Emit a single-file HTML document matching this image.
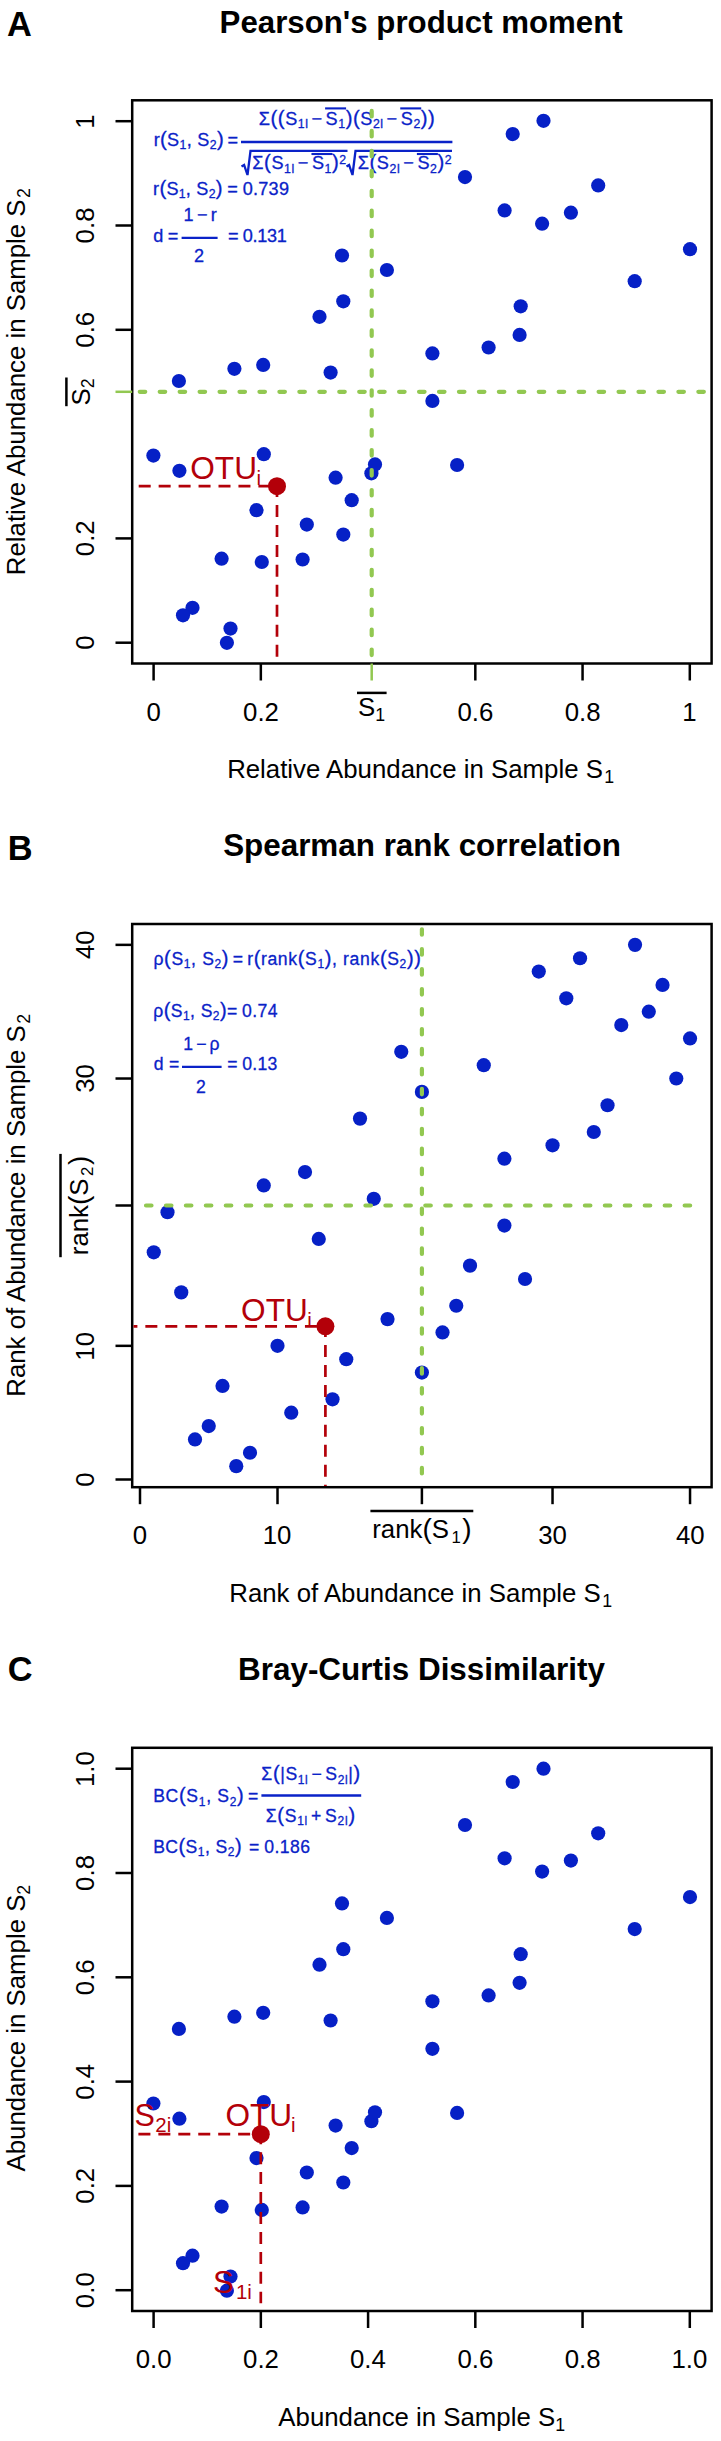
<!DOCTYPE html>
<html><head><meta charset="utf-8"><style>
html,body{margin:0;padding:0;background:#fff;}
svg{display:block;font-family:"Liberation Sans",sans-serif;}
</style></head><body>
<svg width="721" height="2441" viewBox="0 0 721 2441">
<rect width="721" height="2441" fill="#fff"/>
<text x="7.04" y="35.80" font-size="34.4" font-weight="bold" fill="#000">A</text>
<text x="219.59" y="32.50" font-size="31.24" font-weight="bold" fill="#000">Pearson's product moment</text>
<rect x="132.2" y="100.3" width="579.4000000000001" height="563.2" fill="none" stroke="#000" stroke-width="2.5"/>
<line x1="153.60" y1="663.5" x2="153.60" y2="680.5" stroke="#000" stroke-width="2.5"/>
<text x="146.43" y="720.50" font-size="25.8" font-weight="normal" fill="#000">0</text>
<line x1="115.49999999999999" y1="642.70" x2="132.2" y2="642.70" stroke="#000" stroke-width="2.5"/>
<text x="0" y="0" font-size="25.8" fill="#000" transform="translate(93.80,649.87) rotate(-90)">0</text>
<line x1="260.84" y1="663.5" x2="260.84" y2="680.5" stroke="#000" stroke-width="2.5"/>
<text x="243.05" y="720.50" font-size="25.8" font-weight="normal" fill="#000">0.2</text>
<line x1="115.49999999999999" y1="538.40" x2="132.2" y2="538.40" stroke="#000" stroke-width="2.5"/>
<text x="0" y="0" font-size="25.8" fill="#000" transform="translate(93.80,556.19) rotate(-90)">0.2</text>
<line x1="475.32" y1="663.5" x2="475.32" y2="680.5" stroke="#000" stroke-width="2.5"/>
<text x="457.45" y="720.50" font-size="25.8" font-weight="normal" fill="#000">0.6</text>
<line x1="115.49999999999999" y1="329.80" x2="132.2" y2="329.80" stroke="#000" stroke-width="2.5"/>
<text x="0" y="0" font-size="25.8" fill="#000" transform="translate(93.80,347.67) rotate(-90)">0.6</text>
<line x1="582.56" y1="663.5" x2="582.56" y2="680.5" stroke="#000" stroke-width="2.5"/>
<text x="564.68" y="720.50" font-size="25.8" font-weight="normal" fill="#000">0.8</text>
<line x1="115.49999999999999" y1="225.50" x2="132.2" y2="225.50" stroke="#000" stroke-width="2.5"/>
<text x="0" y="0" font-size="25.8" fill="#000" transform="translate(93.80,243.38) rotate(-90)">0.8</text>
<line x1="689.80" y1="663.5" x2="689.80" y2="680.5" stroke="#000" stroke-width="2.5"/>
<text x="682.27" y="720.50" font-size="25.8" font-weight="normal" fill="#000">1</text>
<line x1="115.49999999999999" y1="121.20" x2="132.2" y2="121.20" stroke="#000" stroke-width="2.5"/>
<text x="0" y="0" font-size="25.8" fill="#000" transform="translate(93.80,128.73) rotate(-90)">1</text>
<text x="227.13" y="778.20" font-size="25.8" fill="#000">Relative Abundance in Sample S</text>
<text x="604.33" y="783.00" font-size="17.8" fill="#000">1</text>
<g transform="translate(25.00,575.16) rotate(-90)" fill="#000"><text x="0" y="0" font-size="25.8">Relative Abundance in Sample S</text><text x="377.20" y="4.8" font-size="17.8">2</text></g>
<circle cx="153.40" cy="455.60" r="7.1" fill="#0620c6"/>
<circle cx="179.40" cy="470.80" r="7.1" fill="#0620c6"/>
<circle cx="178.90" cy="381.00" r="7.1" fill="#0620c6"/>
<circle cx="234.40" cy="368.80" r="7.1" fill="#0620c6"/>
<circle cx="263.20" cy="364.90" r="7.1" fill="#0620c6"/>
<circle cx="263.80" cy="454.20" r="7.1" fill="#0620c6"/>
<circle cx="256.50" cy="510.20" r="7.1" fill="#0620c6"/>
<circle cx="306.80" cy="524.60" r="7.1" fill="#0620c6"/>
<circle cx="221.60" cy="558.70" r="7.1" fill="#0620c6"/>
<circle cx="261.80" cy="562.00" r="7.1" fill="#0620c6"/>
<circle cx="302.60" cy="559.50" r="7.1" fill="#0620c6"/>
<circle cx="192.50" cy="607.80" r="7.1" fill="#0620c6"/>
<circle cx="183.00" cy="615.30" r="7.1" fill="#0620c6"/>
<circle cx="230.50" cy="628.60" r="7.1" fill="#0620c6"/>
<circle cx="226.90" cy="642.80" r="7.1" fill="#0620c6"/>
<circle cx="319.50" cy="316.80" r="7.1" fill="#0620c6"/>
<circle cx="343.30" cy="301.30" r="7.1" fill="#0620c6"/>
<circle cx="342.00" cy="255.50" r="7.1" fill="#0620c6"/>
<circle cx="330.60" cy="372.60" r="7.1" fill="#0620c6"/>
<circle cx="335.60" cy="477.70" r="7.1" fill="#0620c6"/>
<circle cx="351.70" cy="500.20" r="7.1" fill="#0620c6"/>
<circle cx="343.30" cy="534.60" r="7.1" fill="#0620c6"/>
<circle cx="371.40" cy="473.30" r="7.1" fill="#0620c6"/>
<circle cx="375.00" cy="464.40" r="7.1" fill="#0620c6"/>
<circle cx="386.90" cy="270.00" r="7.1" fill="#0620c6"/>
<circle cx="432.40" cy="400.90" r="7.1" fill="#0620c6"/>
<circle cx="432.40" cy="353.40" r="7.1" fill="#0620c6"/>
<circle cx="457.10" cy="465.00" r="7.1" fill="#0620c6"/>
<circle cx="465.00" cy="177.10" r="7.1" fill="#0620c6"/>
<circle cx="488.60" cy="347.50" r="7.1" fill="#0620c6"/>
<circle cx="504.60" cy="210.40" r="7.1" fill="#0620c6"/>
<circle cx="520.70" cy="306.30" r="7.1" fill="#0620c6"/>
<circle cx="519.60" cy="334.90" r="7.1" fill="#0620c6"/>
<circle cx="512.70" cy="134.10" r="7.1" fill="#0620c6"/>
<circle cx="542.10" cy="223.70" r="7.1" fill="#0620c6"/>
<circle cx="543.50" cy="120.80" r="7.1" fill="#0620c6"/>
<circle cx="570.90" cy="212.70" r="7.1" fill="#0620c6"/>
<circle cx="598.20" cy="185.40" r="7.1" fill="#0620c6"/>
<circle cx="634.70" cy="281.20" r="7.1" fill="#0620c6"/>
<circle cx="690.00" cy="249.20" r="7.1" fill="#0620c6"/>
<g fill="#0a22c8" stroke="#0a22c8" stroke-width="0.3"><text x="153.70" y="146.00" font-size="18.10">r</text><text x="160.04" y="146.00" font-size="20.30">(</text><text x="167.12" y="146.00" font-size="18.10">S</text><text x="179.52" y="149.40" font-size="12.30">1</text><text x="186.68" y="146.00" font-size="18.10" letter-spacing="0.319">, S</text><text x="209.76" y="149.40" font-size="12.30">2</text><text x="216.92" y="146.00" font-size="20.30">)</text><text x="227.62" y="146.00" font-size="18.10">=</text></g>
<line x1="241.00" y1="142.00" x2="452.40" y2="142.00" stroke="#0a22c8" stroke-width="2.3"/>
<g fill="#0a22c8" stroke="#0a22c8" stroke-width="0.3"><text x="258.75" y="124.80" font-size="18.10">Σ</text><text x="270.50" y="124.80" font-size="20.30" letter-spacing="0.561">((</text><text x="285.14" y="124.80" font-size="18.10">S</text><text x="297.77" y="128.20" font-size="12.30" letter-spacing="0.561">1l</text><text x="311.47" y="124.80" font-size="18.10">−</text><text x="325.60" y="124.80" font-size="18.10">S</text><text x="338.23" y="128.20" font-size="12.30">1</text><text x="345.64" y="124.80" font-size="20.30" letter-spacing="0.561">)(</text><text x="360.28" y="124.80" font-size="18.10">S</text><text x="372.91" y="128.20" font-size="12.30" letter-spacing="0.561">2l</text><text x="386.61" y="124.80" font-size="18.10">−</text><text x="400.74" y="124.80" font-size="18.10">S</text><text x="413.38" y="128.20" font-size="12.30">2</text><text x="420.78" y="124.80" font-size="20.30" letter-spacing="0.561">))</text><line x1="325.10" y1="108.40" x2="346.08" y2="108.40" stroke="#0a22c8" stroke-width="2.1"/><line x1="400.24" y1="108.40" x2="421.22" y2="108.40" stroke="#0a22c8" stroke-width="2.1"/></g>
<g fill="#0a22c8" stroke="#0a22c8" stroke-width="0.3"><text x="252.35" y="169.30" font-size="18.10">Σ</text><text x="264.11" y="169.30" font-size="20.30">(</text><text x="271.44" y="169.30" font-size="18.10">S</text><text x="284.09" y="172.70" font-size="12.30" letter-spacing="0.574">1l</text><text x="297.81" y="169.30" font-size="18.10">−</text><text x="311.96" y="169.30" font-size="18.10">S</text><text x="324.60" y="172.70" font-size="12.30">1</text><text x="332.02" y="169.30" font-size="20.30">)</text><text x="339.35" y="163.80" font-size="12.30">2</text><text x="357.77" y="169.30" font-size="18.10">Σ</text><text x="369.53" y="169.30" font-size="20.30">(</text><text x="376.87" y="169.30" font-size="18.10">S</text><text x="389.51" y="172.70" font-size="12.30" letter-spacing="0.574">2l</text><text x="403.24" y="169.30" font-size="18.10">−</text><text x="417.38" y="169.30" font-size="18.10">S</text><text x="430.03" y="172.70" font-size="12.30">2</text><text x="437.44" y="169.30" font-size="20.30">)</text><text x="444.78" y="163.80" font-size="12.30">2</text><line x1="311.46" y1="154.00" x2="332.45" y2="154.00" stroke="#0a22c8" stroke-width="2.1"/><line x1="416.88" y1="154.00" x2="437.87" y2="154.00" stroke="#0a22c8" stroke-width="2.1"/></g>
<path d="M241.50,166.50 L244.10,165.00 L247.50,175.00 L250.50,150.80 L347.50,150.80" fill="none" stroke="#0a22c8" stroke-width="2.3" stroke-linejoin="miter"/>
<path d="M346.50,166.50 L349.10,165.00 L352.50,175.00 L355.50,150.80 L452.00,150.80" fill="none" stroke="#0a22c8" stroke-width="2.3" stroke-linejoin="miter"/>
<g fill="#0a22c8" stroke="#0a22c8" stroke-width="0.3"><text x="153.10" y="194.60" font-size="18.10">r</text><text x="159.38" y="194.60" font-size="20.30">(</text><text x="166.39" y="194.60" font-size="18.10">S</text><text x="178.71" y="198.00" font-size="12.30">1</text><text x="185.80" y="194.60" font-size="18.10" letter-spacing="0.251">, S</text><text x="208.69" y="198.00" font-size="12.30">2</text><text x="215.78" y="194.60" font-size="20.30">)</text><text x="227.31" y="194.60" font-size="18.10">=</text><text x="242.66" y="194.60" font-size="18.10" letter-spacing="0.251">0.739</text></g>
<g fill="#0a22c8" stroke="#0a22c8" stroke-width="0.3"><text x="153.14" y="242.10" font-size="18.10">d</text><text x="167.82" y="242.10" font-size="18.10">=</text></g>
<line x1="181.60" y1="237.90" x2="217.60" y2="237.90" stroke="#0a22c8" stroke-width="2.4"/>
<g fill="#0a22c8" stroke="#0a22c8" stroke-width="0.3"><text x="183.62" y="220.60" font-size="18.10">1</text><text x="196.95" y="220.60" font-size="18.10">−</text><text x="210.77" y="220.60" font-size="18.10">r</text></g>
<g fill="#0a22c8" stroke="#0a22c8" stroke-width="0.3"><text x="194.09" y="262.10" font-size="18.10">2</text></g>
<g fill="#0a22c8" stroke="#0a22c8" stroke-width="0.3"><text x="228.02" y="242.10" font-size="18.10">=</text><text x="242.79" y="242.10" font-size="18.10" letter-spacing="-0.324">0.131</text></g>
<line x1="139.75" y1="391.80" x2="706.00" y2="391.80" stroke="#92c851" stroke-width="4.2" stroke-dasharray="5.5 14.45" stroke-linecap="round"/>
<line x1="371.70" y1="110.95" x2="371.70" y2="660.00" stroke="#92c851" stroke-width="4.2" stroke-dasharray="5.5 14.45" stroke-linecap="round"/>
<line x1="371.70" y1="663.5" x2="371.70" y2="680.5" stroke="#92c851" stroke-width="2.5"/>
<line x1="115.49999999999999" y1="391.80" x2="132.2" y2="391.80" stroke="#92c851" stroke-width="2.5"/>
<text x="358.09" y="715.60" font-size="25.8" fill="#000">S</text>
<text x="375.30" y="720.80" font-size="17.8" fill="#000">1</text>
<line x1="357.00" y1="692.90" x2="386.60" y2="692.90" stroke="#000" stroke-width="2.5"/>
<g transform="translate(89.80,405.49) rotate(-90)" fill="#000"><text x="0" y="0" font-size="25.8">S</text><text x="17.21" y="4.0" font-size="17.8">2</text></g>
<line x1="66.4" y1="377.5" x2="66.4" y2="406.2" stroke="#000" stroke-width="2.5"/>
<line x1="138.70" y1="486.20" x2="277.00" y2="486.20" stroke="#b30009" stroke-width="2.8" stroke-dasharray="12.0 7.95" stroke-linecap="butt"/>
<line x1="277.00" y1="485.05" x2="277.00" y2="657.20" stroke="#b30009" stroke-width="2.7" stroke-dasharray="12.0 7.95" stroke-linecap="butt"/>
<text x="190.30" y="479.00" font-size="31.6" font-weight="normal" fill="#b30009">OTU</text>
<text x="256.43" y="485.00" font-size="20.5" font-weight="normal" fill="#b30009">i</text>
<circle cx="277.00" cy="486.20" r="9.0" fill="#b30009"/>
<text x="7.70" y="859.80" font-size="34.4" font-weight="bold" fill="#000">B</text>
<text x="223.13" y="855.80" font-size="31.4" font-weight="bold" fill="#000">Spearman rank correlation</text>
<rect x="132.2" y="924.0" width="579.4000000000001" height="563.2" fill="none" stroke="#000" stroke-width="2.5"/>
<line x1="140.00" y1="1487.2" x2="140.00" y2="1504.2" stroke="#000" stroke-width="2.5"/>
<text x="132.83" y="1544.20" font-size="25.8" font-weight="normal" fill="#000">0</text>
<line x1="115.49999999999999" y1="1479.50" x2="132.2" y2="1479.50" stroke="#000" stroke-width="2.5"/>
<text x="0" y="0" font-size="25.8" fill="#000" transform="translate(93.80,1486.67) rotate(-90)">0</text>
<line x1="277.51" y1="1487.2" x2="277.51" y2="1504.2" stroke="#000" stroke-width="2.5"/>
<text x="262.68" y="1544.20" font-size="25.8" font-weight="normal" fill="#000">10</text>
<line x1="115.49999999999999" y1="1345.84" x2="132.2" y2="1345.84" stroke="#000" stroke-width="2.5"/>
<text x="0" y="0" font-size="25.8" fill="#000" transform="translate(93.80,1360.67) rotate(-90)">10</text>
<line x1="552.53" y1="1487.2" x2="552.53" y2="1504.2" stroke="#000" stroke-width="2.5"/>
<text x="538.19" y="1544.20" font-size="25.8" font-weight="normal" fill="#000">30</text>
<line x1="115.49999999999999" y1="1078.52" x2="132.2" y2="1078.52" stroke="#000" stroke-width="2.5"/>
<text x="0" y="0" font-size="25.8" fill="#000" transform="translate(93.80,1092.86) rotate(-90)">30</text>
<line x1="690.04" y1="1487.2" x2="690.04" y2="1504.2" stroke="#000" stroke-width="2.5"/>
<text x="675.90" y="1544.20" font-size="25.8" font-weight="normal" fill="#000">40</text>
<line x1="115.49999999999999" y1="944.86" x2="132.2" y2="944.86" stroke="#000" stroke-width="2.5"/>
<text x="0" y="0" font-size="25.8" fill="#000" transform="translate(93.80,959.00) rotate(-90)">40</text>
<text x="229.28" y="1601.90" font-size="25.8" fill="#000">Rank of Abundance in Sample S</text>
<text x="602.18" y="1606.70" font-size="17.8" fill="#000">1</text>
<g transform="translate(25.00,1396.71) rotate(-90)" fill="#000"><text x="0" y="0" font-size="25.8">Rank of Abundance in Sample S</text><text x="372.90" y="4.8" font-size="17.8">2</text></g>
<line x1="421.90" y1="1487.2" x2="421.90" y2="1504.2" stroke="#000" stroke-width="2.5"/>
<line x1="115.49999999999999" y1="1205.50" x2="132.2" y2="1205.50" stroke="#000" stroke-width="2.5"/>
<text x="372.22" y="1537.90" font-size="25.8">rank</text>
<text x="422.41" y="1537.90" font-size="28.0">(</text>
<text x="431.73" y="1537.90" font-size="25.8">S</text>
<text x="451.44" y="1542.70" font-size="16.8">1</text>
<text x="462.28" y="1537.90" font-size="28.0">)</text>
<line x1="370.40" y1="1511.00" x2="473.30" y2="1511.00" stroke="#000" stroke-width="2.5"/>
<g transform="translate(87.90,1255.18) rotate(-90)"><text x="0.00" y="0" font-size="25.8">rank</text><text x="50.19" y="0" font-size="28.0">(</text><text x="59.51" y="0" font-size="25.8">S</text><text x="79.22" y="4.8" font-size="16.8">2</text><text x="90.07" y="0" font-size="28.0">)</text></g>
<line x1="60.5" y1="1153.9" x2="60.5" y2="1257.2" stroke="#000" stroke-width="2.5"/>
<circle cx="167.50" cy="1212.18" r="7.1" fill="#0620c6"/>
<circle cx="153.75" cy="1252.28" r="7.1" fill="#0620c6"/>
<circle cx="181.25" cy="1292.38" r="7.1" fill="#0620c6"/>
<circle cx="263.76" cy="1185.45" r="7.1" fill="#0620c6"/>
<circle cx="305.01" cy="1172.08" r="7.1" fill="#0620c6"/>
<circle cx="318.76" cy="1238.91" r="7.1" fill="#0620c6"/>
<circle cx="401.27" cy="1051.79" r="7.1" fill="#0620c6"/>
<circle cx="483.77" cy="1065.15" r="7.1" fill="#0620c6"/>
<circle cx="421.90" cy="1091.89" r="7.1" fill="#0620c6"/>
<circle cx="360.02" cy="1118.62" r="7.1" fill="#0620c6"/>
<circle cx="635.04" cy="944.86" r="7.1" fill="#0620c6"/>
<circle cx="580.03" cy="958.23" r="7.1" fill="#0620c6"/>
<circle cx="538.78" cy="971.59" r="7.1" fill="#0620c6"/>
<circle cx="662.54" cy="984.96" r="7.1" fill="#0620c6"/>
<circle cx="566.28" cy="998.32" r="7.1" fill="#0620c6"/>
<circle cx="648.79" cy="1011.69" r="7.1" fill="#0620c6"/>
<circle cx="621.28" cy="1025.06" r="7.1" fill="#0620c6"/>
<circle cx="690.04" cy="1038.42" r="7.1" fill="#0620c6"/>
<circle cx="676.29" cy="1078.52" r="7.1" fill="#0620c6"/>
<circle cx="607.53" cy="1105.25" r="7.1" fill="#0620c6"/>
<circle cx="504.40" cy="1158.72" r="7.1" fill="#0620c6"/>
<circle cx="373.77" cy="1198.81" r="7.1" fill="#0620c6"/>
<circle cx="504.40" cy="1225.55" r="7.1" fill="#0620c6"/>
<circle cx="470.02" cy="1265.64" r="7.1" fill="#0620c6"/>
<circle cx="525.03" cy="1279.01" r="7.1" fill="#0620c6"/>
<circle cx="593.78" cy="1131.98" r="7.1" fill="#0620c6"/>
<circle cx="552.53" cy="1145.35" r="7.1" fill="#0620c6"/>
<circle cx="277.51" cy="1345.84" r="7.1" fill="#0620c6"/>
<circle cx="222.51" cy="1385.94" r="7.1" fill="#0620c6"/>
<circle cx="291.26" cy="1412.67" r="7.1" fill="#0620c6"/>
<circle cx="208.75" cy="1426.04" r="7.1" fill="#0620c6"/>
<circle cx="195.00" cy="1439.40" r="7.1" fill="#0620c6"/>
<circle cx="250.01" cy="1452.77" r="7.1" fill="#0620c6"/>
<circle cx="236.26" cy="1466.13" r="7.1" fill="#0620c6"/>
<circle cx="332.51" cy="1399.30" r="7.1" fill="#0620c6"/>
<circle cx="456.27" cy="1305.74" r="7.1" fill="#0620c6"/>
<circle cx="387.52" cy="1319.11" r="7.1" fill="#0620c6"/>
<circle cx="442.52" cy="1332.47" r="7.1" fill="#0620c6"/>
<circle cx="346.26" cy="1359.21" r="7.1" fill="#0620c6"/>
<circle cx="421.90" cy="1372.57" r="7.1" fill="#0620c6"/>
<g fill="#0a22c8" stroke="#0a22c8" stroke-width="0.3"><text x="153.47" y="964.50" font-size="17.60">ρ</text><text x="164.12" y="964.50" font-size="20.00">(</text><text x="171.42" y="964.50" font-size="17.60">S</text><text x="183.80" y="967.90" font-size="12.00">1</text><text x="191.11" y="964.50" font-size="17.60" letter-spacing="0.641">, S</text><text x="214.55" y="967.90" font-size="12.00">2</text><text x="221.87" y="964.50" font-size="20.00">)</text><text x="232.69" y="964.50" font-size="17.60">=</text><text x="247.13" y="964.50" font-size="17.60">r</text><text x="253.63" y="964.50" font-size="20.00">(</text><text x="260.93" y="964.50" font-size="17.60" letter-spacing="0.641">rank</text><text x="297.73" y="964.50" font-size="20.00">(</text><text x="305.03" y="964.50" font-size="17.60">S</text><text x="317.41" y="967.90" font-size="12.00">1</text><text x="324.72" y="964.50" font-size="20.00">)</text><text x="332.02" y="964.50" font-size="17.60" letter-spacing="0.641">, rank</text><text x="379.88" y="964.50" font-size="20.00">(</text><text x="387.19" y="964.50" font-size="17.60">S</text><text x="399.56" y="967.90" font-size="12.00">2</text><text x="406.88" y="964.50" font-size="20.00" letter-spacing="0.641">))</text></g>
<g fill="#0a22c8" stroke="#0a22c8" stroke-width="0.3"><text x="153.27" y="1016.80" font-size="17.60">ρ</text><text x="163.70" y="1016.80" font-size="20.00">(</text><text x="170.78" y="1016.80" font-size="17.60">S</text><text x="182.94" y="1020.20" font-size="12.00">1</text><text x="190.04" y="1016.80" font-size="17.60" letter-spacing="0.422">, S</text><text x="212.82" y="1020.20" font-size="12.00">2</text><text x="219.92" y="1016.80" font-size="20.00">)</text><text x="227.00" y="1016.80" font-size="17.60">=</text><text x="242.10" y="1016.80" font-size="17.60" letter-spacing="0.422">0.74</text></g>
<g fill="#0a22c8" stroke="#0a22c8" stroke-width="0.3"><text x="153.66" y="1069.90" font-size="17.60">d</text><text x="169.09" y="1069.90" font-size="17.60">=</text></g>
<line x1="182.00" y1="1066.90" x2="221.60" y2="1066.90" stroke="#0a22c8" stroke-width="2.4"/>
<g fill="#0a22c8" stroke="#0a22c8" stroke-width="0.3"><text x="183.16" y="1049.50" font-size="17.60">1</text><text x="196.13" y="1049.50" font-size="17.60">−</text><text x="209.59" y="1049.50" font-size="17.60">ρ</text></g>
<g fill="#0a22c8" stroke="#0a22c8" stroke-width="0.3"><text x="196.11" y="1092.80" font-size="17.60">2</text></g>
<g fill="#0a22c8" stroke="#0a22c8" stroke-width="0.3"><text x="227.34" y="1069.90" font-size="17.60">=</text><text x="242.27" y="1069.90" font-size="17.60" letter-spacing="0.250">0.13</text></g>
<line x1="146.00" y1="1205.50" x2="695.00" y2="1205.50" stroke="#92c851" stroke-width="4.2" stroke-dasharray="5.5 14.45" stroke-linecap="round"/>
<line x1="421.90" y1="929.25" x2="421.90" y2="1480.00" stroke="#92c851" stroke-width="4.2" stroke-dasharray="5.5 14.45" stroke-linecap="round"/>
<line x1="133.50" y1="1326.30" x2="325.40" y2="1326.30" stroke="#b30009" stroke-width="2.8" stroke-dasharray="12.0 7.95" stroke-linecap="butt" stroke-dashoffset="8.100"/>
<line x1="325.40" y1="1325.10" x2="325.40" y2="1486.00" stroke="#b30009" stroke-width="2.7" stroke-dasharray="12.0 7.95" stroke-linecap="butt"/>
<text x="241.10" y="1320.60" font-size="31.6" font-weight="normal" fill="#b30009">OTU</text>
<text x="307.13" y="1327.00" font-size="20.5" font-weight="normal" fill="#b30009">i</text>
<circle cx="325.40" cy="1326.30" r="9.0" fill="#b30009"/>
<text x="7.79" y="1680.70" font-size="34.4" font-weight="bold" fill="#000">C</text>
<text x="238.01" y="1679.70" font-size="31.45" font-weight="bold" fill="#000">Bray-Curtis Dissimilarity</text>
<rect x="132.2" y="1747.8" width="579.4000000000001" height="563.2" fill="none" stroke="#000" stroke-width="2.5"/>
<line x1="153.60" y1="2311.0" x2="153.60" y2="2328.0" stroke="#000" stroke-width="2.5"/>
<text x="135.67" y="2368.00" font-size="25.8" font-weight="normal" fill="#000">0.0</text>
<line x1="115.49999999999999" y1="2290.20" x2="132.2" y2="2290.20" stroke="#000" stroke-width="2.5"/>
<text x="0" y="0" font-size="25.8" fill="#000" transform="translate(93.80,2308.13) rotate(-90)">0.0</text>
<line x1="260.84" y1="2311.0" x2="260.84" y2="2328.0" stroke="#000" stroke-width="2.5"/>
<text x="243.05" y="2368.00" font-size="25.8" font-weight="normal" fill="#000">0.2</text>
<line x1="115.49999999999999" y1="2185.90" x2="132.2" y2="2185.90" stroke="#000" stroke-width="2.5"/>
<text x="0" y="0" font-size="25.8" fill="#000" transform="translate(93.80,2203.69) rotate(-90)">0.2</text>
<line x1="368.08" y1="2311.0" x2="368.08" y2="2328.0" stroke="#000" stroke-width="2.5"/>
<text x="350.02" y="2368.00" font-size="25.8" font-weight="normal" fill="#000">0.4</text>
<line x1="115.49999999999999" y1="2081.60" x2="132.2" y2="2081.60" stroke="#000" stroke-width="2.5"/>
<text x="0" y="0" font-size="25.8" fill="#000" transform="translate(93.80,2099.66) rotate(-90)">0.4</text>
<line x1="475.32" y1="2311.0" x2="475.32" y2="2328.0" stroke="#000" stroke-width="2.5"/>
<text x="457.45" y="2368.00" font-size="25.8" font-weight="normal" fill="#000">0.6</text>
<line x1="115.49999999999999" y1="1977.30" x2="132.2" y2="1977.30" stroke="#000" stroke-width="2.5"/>
<text x="0" y="0" font-size="25.8" fill="#000" transform="translate(93.80,1995.17) rotate(-90)">0.6</text>
<line x1="582.56" y1="2311.0" x2="582.56" y2="2328.0" stroke="#000" stroke-width="2.5"/>
<text x="564.68" y="2368.00" font-size="25.8" font-weight="normal" fill="#000">0.8</text>
<line x1="115.49999999999999" y1="1873.00" x2="132.2" y2="1873.00" stroke="#000" stroke-width="2.5"/>
<text x="0" y="0" font-size="25.8" fill="#000" transform="translate(93.80,1890.88) rotate(-90)">0.8</text>
<line x1="689.80" y1="2311.0" x2="689.80" y2="2328.0" stroke="#000" stroke-width="2.5"/>
<text x="671.39" y="2368.00" font-size="25.8" font-weight="normal" fill="#000">1.0</text>
<line x1="115.49999999999999" y1="1768.70" x2="132.2" y2="1768.70" stroke="#000" stroke-width="2.5"/>
<text x="0" y="0" font-size="25.8" fill="#000" transform="translate(93.80,1787.11) rotate(-90)">1.0</text>
<text x="278.35" y="2425.70" font-size="25.8" fill="#000">Abundance in Sample S</text>
<text x="555.17" y="2430.50" font-size="17.8" fill="#000">1</text>
<g transform="translate(25.00,2171.44) rotate(-90)" fill="#000"><text x="0" y="0" font-size="25.8">Abundance in Sample S</text><text x="276.82" y="4.8" font-size="17.8">2</text></g>
<circle cx="153.40" cy="2103.50" r="7.1" fill="#0620c6"/>
<circle cx="179.40" cy="2118.70" r="7.1" fill="#0620c6"/>
<circle cx="178.90" cy="2028.90" r="7.1" fill="#0620c6"/>
<circle cx="234.40" cy="2016.70" r="7.1" fill="#0620c6"/>
<circle cx="263.20" cy="2012.80" r="7.1" fill="#0620c6"/>
<circle cx="263.80" cy="2102.10" r="7.1" fill="#0620c6"/>
<circle cx="256.50" cy="2158.10" r="7.1" fill="#0620c6"/>
<circle cx="306.80" cy="2172.50" r="7.1" fill="#0620c6"/>
<circle cx="221.60" cy="2206.60" r="7.1" fill="#0620c6"/>
<circle cx="261.80" cy="2209.90" r="7.1" fill="#0620c6"/>
<circle cx="302.60" cy="2207.40" r="7.1" fill="#0620c6"/>
<circle cx="192.50" cy="2255.70" r="7.1" fill="#0620c6"/>
<circle cx="183.00" cy="2263.20" r="7.1" fill="#0620c6"/>
<circle cx="230.50" cy="2276.50" r="7.1" fill="#0620c6"/>
<circle cx="226.90" cy="2290.70" r="7.1" fill="#0620c6"/>
<circle cx="319.50" cy="1964.70" r="7.1" fill="#0620c6"/>
<circle cx="343.30" cy="1949.20" r="7.1" fill="#0620c6"/>
<circle cx="342.00" cy="1903.40" r="7.1" fill="#0620c6"/>
<circle cx="330.60" cy="2020.50" r="7.1" fill="#0620c6"/>
<circle cx="335.60" cy="2125.60" r="7.1" fill="#0620c6"/>
<circle cx="351.70" cy="2148.10" r="7.1" fill="#0620c6"/>
<circle cx="343.30" cy="2182.50" r="7.1" fill="#0620c6"/>
<circle cx="371.40" cy="2121.20" r="7.1" fill="#0620c6"/>
<circle cx="375.00" cy="2112.30" r="7.1" fill="#0620c6"/>
<circle cx="386.90" cy="1917.90" r="7.1" fill="#0620c6"/>
<circle cx="432.40" cy="2048.80" r="7.1" fill="#0620c6"/>
<circle cx="432.40" cy="2001.30" r="7.1" fill="#0620c6"/>
<circle cx="457.10" cy="2112.90" r="7.1" fill="#0620c6"/>
<circle cx="465.00" cy="1825.00" r="7.1" fill="#0620c6"/>
<circle cx="488.60" cy="1995.40" r="7.1" fill="#0620c6"/>
<circle cx="504.60" cy="1858.30" r="7.1" fill="#0620c6"/>
<circle cx="520.70" cy="1954.20" r="7.1" fill="#0620c6"/>
<circle cx="519.60" cy="1982.80" r="7.1" fill="#0620c6"/>
<circle cx="512.70" cy="1782.00" r="7.1" fill="#0620c6"/>
<circle cx="542.10" cy="1871.60" r="7.1" fill="#0620c6"/>
<circle cx="543.50" cy="1768.70" r="7.1" fill="#0620c6"/>
<circle cx="570.90" cy="1860.60" r="7.1" fill="#0620c6"/>
<circle cx="598.20" cy="1833.30" r="7.1" fill="#0620c6"/>
<circle cx="634.70" cy="1929.10" r="7.1" fill="#0620c6"/>
<circle cx="690.00" cy="1897.10" r="7.1" fill="#0620c6"/>
<g fill="#0a22c8" stroke="#0a22c8" stroke-width="0.3"><text x="153.16" y="1802.20" font-size="17.60" letter-spacing="0.694">BC</text><text x="178.99" y="1802.20" font-size="20.00">(</text><text x="186.35" y="1802.20" font-size="17.60">S</text><text x="198.78" y="1805.60" font-size="12.00">1</text><text x="206.15" y="1802.20" font-size="17.60" letter-spacing="0.694">, S</text><text x="229.75" y="1805.60" font-size="12.00">2</text><text x="237.12" y="1802.20" font-size="20.00">)</text><text x="247.99" y="1802.20" font-size="17.60">=</text></g>
<line x1="261.40" y1="1795.50" x2="361.20" y2="1795.50" stroke="#0a22c8" stroke-width="2.3"/>
<g fill="#0a22c8" stroke="#0a22c8" stroke-width="0.3"><text x="261.37" y="1780.30" font-size="17.60">Σ</text><text x="272.90" y="1780.30" font-size="20.00">(</text><text x="280.20" y="1780.30" font-size="17.60" letter-spacing="0.644">|S</text><text x="297.80" y="1783.70" font-size="12.00" letter-spacing="0.644">1l</text><text x="311.43" y="1780.30" font-size="17.60">−</text><text x="325.35" y="1780.30" font-size="17.60">S</text><text x="337.74" y="1783.70" font-size="12.00" letter-spacing="0.644">2l</text><text x="348.36" y="1780.30" font-size="17.60">|</text><text x="353.58" y="1780.30" font-size="20.00">)</text></g>
<g fill="#0a22c8" stroke="#0a22c8" stroke-width="0.3"><text x="265.67" y="1821.50" font-size="17.60">Σ</text><text x="277.30" y="1821.50" font-size="20.00">(</text><text x="284.71" y="1821.50" font-size="17.60">S</text><text x="297.19" y="1824.90" font-size="12.00" letter-spacing="0.748">1l</text><text x="311.03" y="1821.50" font-size="17.60">+</text><text x="325.06" y="1821.50" font-size="17.60">S</text><text x="337.54" y="1824.90" font-size="12.00" letter-spacing="0.748">2l</text><text x="348.38" y="1821.50" font-size="20.00">)</text></g>
<g fill="#0a22c8" stroke="#0a22c8" stroke-width="0.3"><text x="153.16" y="1852.60" font-size="17.60" letter-spacing="0.452">BC</text><text x="178.51" y="1852.60" font-size="20.00">(</text><text x="185.62" y="1852.60" font-size="17.60">S</text><text x="197.81" y="1856.00" font-size="12.00">1</text><text x="204.94" y="1852.60" font-size="17.60" letter-spacing="0.452">, S</text><text x="227.81" y="1856.00" font-size="12.00">2</text><text x="234.94" y="1852.60" font-size="20.00">)</text><text x="249.09" y="1852.60" font-size="17.60">=</text><text x="264.22" y="1852.60" font-size="17.60" letter-spacing="0.452">0.186</text></g>
<line x1="138.40" y1="2134.20" x2="260.80" y2="2134.20" stroke="#b30009" stroke-width="2.8" stroke-dasharray="12.0 7.95" stroke-linecap="butt"/>
<line x1="260.80" y1="2132.20" x2="260.80" y2="2303.20" stroke="#b30009" stroke-width="2.7" stroke-dasharray="12.0 7.95" stroke-linecap="butt"/>
<text x="134.51" y="2125.80" font-size="30.5" font-weight="normal" fill="#b30009">S</text>
<text x="155.27" y="2132.30" font-size="20.5" font-weight="normal" fill="#b30009">2i</text>
<text x="225.40" y="2126.20" font-size="31.6" font-weight="normal" fill="#b30009">OTU</text>
<text x="291.03" y="2132.40" font-size="20.5" font-weight="normal" fill="#b30009">i</text>
<text x="212.98" y="2293.30" font-size="31.2" font-weight="normal" fill="#b30009">S</text>
<text x="235.94" y="2298.70" font-size="20.5" font-weight="normal" fill="#b30009">1i</text>
<circle cx="260.80" cy="2134.20" r="9.0" fill="#b30009"/>
</svg></body></html>
